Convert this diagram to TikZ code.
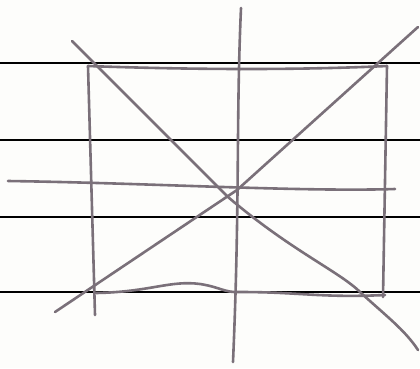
\documentclass[tikz,border=0pt]{standalone}
\usepackage{xcolor}
\usepackage{tikz}
\usetikzlibrary{calc}
\definecolor{pencil}{HTML}{7A7079}
\definecolor{paper}{HTML}{FDFDFB}

\begin{document}
\begin{tikzpicture}[
    x=1pt, y=-1pt,
    rule/.style={draw=black, line width=1.3pt},
    stroke/.style={draw=pencil, line width=2.6pt, line cap=round}
]
\fill[paper] (0,0) rectangle (420,368);
\useasboundingbox (0,0) rectangle (420,368);
% ruled paper
\foreach \y in {63,140,217,292}
    \draw[rule] (0,\y) -- (420,\y);
% box
\coordinate (tl) at (88,66);
\coordinate (tr) at (387,66);
\coordinate (br) at (385,295);
\coordinate (bl) at (96,293);
\draw[stroke] (tl) .. controls (200,70) and (300,70) .. (tr);
\draw[stroke] (88,66) -- (95,315);
\draw[stroke] (tr) -- (383,297);
\draw[stroke] (bl) .. controls (150,292) and (170,280) .. (200,284)
    .. controls (220,287) and (225,293) .. (240,292)
    .. controls (300,292) and (320,298) .. (br);
% cross
\draw[stroke] (241,8) .. controls (236,120) and (240,200) .. (233,362);
\draw[stroke] (8,181) .. controls (150,183) and (300,192) .. (395,189);
% diagonals
\draw[stroke] (72,41) -- (228,197) .. controls (290,250) and (340,272) .. (360,292)
    .. controls (385,315) and (405,330) .. (418,350);
\draw[stroke] (55,312) -- (237,190) -- (418,27);
\end{tikzpicture}
\end{document}
